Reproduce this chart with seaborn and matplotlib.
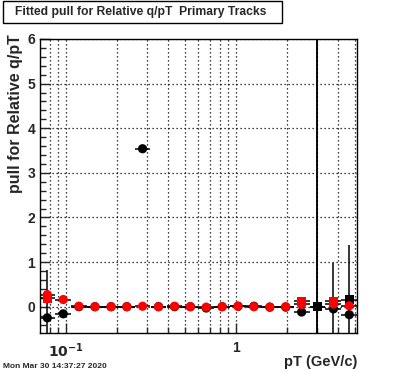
import numpy as np
import pandas as pd
import matplotlib
matplotlib.use("Agg")
import matplotlib.pyplot as plt
import matplotlib.patches as patches
import seaborn as sns

# 1. DATA

pt = [0.0776, 0.0963, 0.119, 0.148, 0.184, 0.228, 0.282, 0.350, 0.435, 0.539,
      0.668, 0.829, 1.028, 1.275, 1.581, 1.961, 2.432, 3.016, 3.741, 4.639]

black_circ = [-0.25, -0.16, 0.0, 0.0, 0.0, 0.0, 3.54, 0.0, 0.0, 0.0,
              -0.03, 0.0, 0.01, 0.01, -0.01, -0.01, -0.12, 0.0, -0.05, -0.18]
black_circ_err = [1.08, 0.03, 0.02, 0.02, 0.02, 0.02, 0.03, 0.02, 0.02, 0.02,
                  0.02, 0.02, 0.02, 0.02, 0.02, 0.03, 0.05, 10.0, 1.04, 1.56]

black_sq = [np.nan] * 17 + [0.0, np.nan, 0.16]
black_sq_err = [0.0] * 17 + [10.0, 0.0, 0.05]

red_circ = [0.27, 0.16, 0.01, 0.0, 0.0, 0.0, 0.01, 0.0, 0.01, 0.0,
            -0.01, 0.0, 0.01, 0.0, -0.01, 0.0, 0.05, np.nan, 0.06, 0.02]
red_sq = [0.19, np.nan, np.nan, np.nan, np.nan, np.nan, np.nan, np.nan, np.nan, np.nan,
          np.nan, np.nan, np.nan, np.nan, np.nan, np.nan, 0.12, np.nan, 0.12, np.nan]

title = "Fitted pull for Relative q/pT  Primary Tracks"
stamp = "Mon Mar 30 14:37:27 2020"

# 2. BUILD LONG TABLE

frames = []
for name, vals in [("bc", black_circ), ("bs", black_sq), ("rs", red_sq), ("rc", red_circ)]:
    frames.append(pd.DataFrame({"pt": pt, "val": vals, "series": name}))
df = pd.concat(frames).dropna()

# 3. PLOT

sns.set_style("ticks")
plt.rcParams["font.family"] = ["Liberation Sans", "DejaVu Sans"]
plt.rcParams["font.weight"] = "bold"

fig = plt.figure(figsize=(3.96, 3.72), dpi=100)
ax = fig.add_axes([40 / 396, 39 / 372, 317 / 396, 294 / 372])

ax.set_xscale("log")
ax.set_xlim(0.0703, 5.15)
ax.set_ylim(-0.59, 6.0)

# bin half widths on log scale
half = 10 ** (0.0935 / 2)
pt_arr = np.array(pt)
xerr = [pt_arr - pt_arr / half, pt_arr * half - pt_arr]

ekw = dict(fmt="none", ecolor="black", elinewidth=1.1, capsize=0, zorder=2)
ax.errorbar(pt, black_circ, yerr=black_circ_err, xerr=xerr, **ekw)
ax.errorbar(pt, black_sq, yerr=black_sq_err, xerr=xerr, **ekw)
ax.errorbar(pt, red_circ, xerr=xerr, **ekw)
ax.errorbar(pt, red_sq, xerr=xerr, **ekw)

sns.scatterplot(data=df, x="pt", y="val", hue="series", style="series",
                palette={"bc": "black", "bs": "black", "rs": "red", "rc": "red"},
                markers={"bc": "o", "bs": "s", "rs": "s", "rc": "o"},
                s=44, linewidth=0, legend=False, ax=ax, zorder=3)

# grid
dots = (0, (1, 2.2))
ax.set_yticks(range(0, 7))
ax.set_yticks(np.arange(-0.4, 6.0, 0.2), minor=True)
ax.set_xticks([0.1, 1])
ax.set_xticklabels([r"$\mathbf{10^{-1}}$", "1"])
ax.grid(True, which="major", axis="both", color="black", linestyle=dots, linewidth=0.9)
ax.grid(True, which="minor", axis="x", color="black", linestyle=dots, linewidth=0.9)
ax.set_axisbelow(True)

ax.tick_params(axis="both", which="major", direction="in", length=7, width=1,
               labelsize=10, top=False, right=False)
ax.tick_params(axis="both", which="minor", direction="in", length=4, width=1,
               top=False, right=False)
ax.tick_params(axis="x", which="major", pad=6)
for lab in ax.get_yticklabels() + ax.get_xticklabels():
    lab.set_fontweight("bold")
for sp in ax.spines.values():
    sp.set_linewidth(1.0)
    sp.set_color("black")

ax.set_xlabel("")
ax.set_ylabel("")
fig.text(357 / 396, 1 - 362 / 372, "pT (GeV/c)", ha="right", va="center",
         fontsize=10.5, fontweight="bold")
fig.text(16 / 396, 1 - 34 / 372, "pull for Relative q/pT", rotation=90,
         ha="center", va="top", fontsize=11.5, fontweight="bold")

# title box
fig.patches.append(patches.Rectangle((3 / 396, 1 - 23 / 372), 279 / 396, 22 / 372,
                                     transform=fig.transFigure, fill=False,
                                     edgecolor="black", linewidth=1.0))
fig.text(15 / 396, 1 - 12 / 372, title, ha="left", va="center",
         fontsize=8.7, fontweight="bold")

fig.text(3 / 396, 1 - 366 / 372, stamp, ha="left", va="center",
         fontsize=6, fontweight="bold")

plt.savefig("out.png", dpi=100)
